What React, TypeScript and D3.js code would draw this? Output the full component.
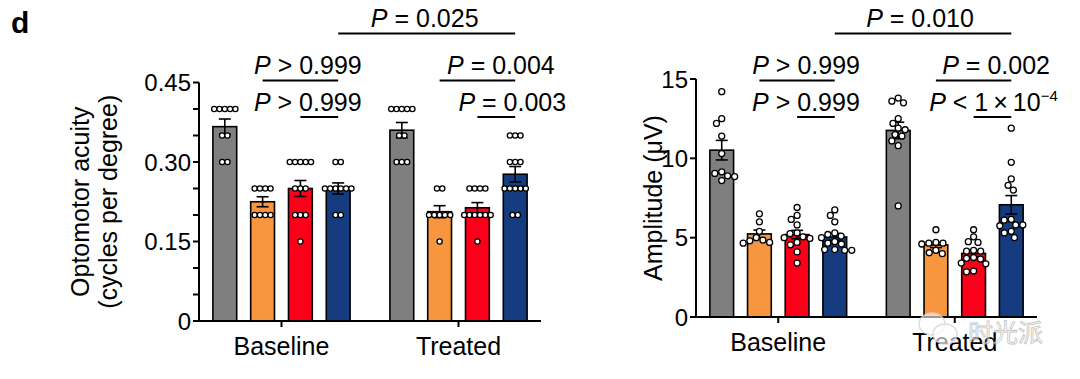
import React from "react";
import * as d3 from "d3";

// ---------- data ----------
const groups = ["Baseline", "Treated"];
const seriesKeys = ["grey", "orange", "red", "blue"];
const seriesColors = ["#7f7f7f", "#f7963f", "#fc0019", "#163c80"];

// Optomotor acuity (cycles per degree), one array per series
const acuityBaseline = [
  [0.4, 0.4, 0.4, 0.4, 0.4, 0.35, 0.35, 0.3, 0.3],
  [0.25, 0.25, 0.25, 0.25, 0.2, 0.2, 0.2, 0.2],
  [0.3, 0.3, 0.3, 0.3, 0.3, 0.25, 0.25, 0.25, 0.2, 0.2, 0.2, 0.15],
  [0.3, 0.3, 0.25, 0.25, 0.25, 0.25, 0.25, 0.25, 0.2, 0.2],
];
const acuityTreated = [
  [0.4, 0.4, 0.4, 0.4, 0.4, 0.35, 0.35, 0.3, 0.3, 0.3],
  [0.25, 0.25, 0.2, 0.2, 0.2, 0.2, 0.2, 0.15],
  [0.25, 0.25, 0.25, 0.25, 0.2, 0.2, 0.2, 0.2, 0.2, 0.2, 0.15],
  [0.35, 0.35, 0.35, 0.3, 0.3, 0.3, 0.25, 0.25, 0.25, 0.25, 0.25, 0.2, 0.2],
];

// Amplitude (µV)
const amplitudeBaseline = [
  [14.2, 12.5, 12.2, 11.4, 10.3, 9.05, 9.15, 8.9, 8.85, 8.6],
  [6.5, 6.0, 5.4, 5.0, 4.8, 4.7, 4.65, 4.85],
  [6.9, 6.4, 6.15, 5.8, 5.3, 5.25, 5.0, 4.95, 5.05, 4.7, 4.55, 4.1, 3.4],
  [6.75, 6.4, 6.0, 5.3, 5.2, 5.1, 5.0, 4.75, 4.65, 4.6, 4.25, 4.2, 4.2, 4.25],
];
const amplitudeTreated = [
  [13.8, 13.5, 13.6, 12.5, 12.2, 11.9, 11.8, 11.4, 11.5, 11.1, 10.8, 7.0],
  [5.5, 4.7, 4.65, 4.6, 4.65, 4.2, 4.0, 4.05],
  [5.5, 5.05, 4.7, 4.75, 4.15, 4.2, 4.15, 3.7, 3.75, 3.65, 3.4, 3.35, 2.9, 2.85],
  [11.9, 9.75, 8.7, 8.3, 8.0, 6.1, 6.15, 5.8, 5.8, 5.75, 5.4, 5.3, 5.0],
];

const acuityTicks = [0, 0.05, 0.1, 0.15, 0.2, 0.25, 0.3, 0.35, 0.4, 0.45];
const acuityTickLabels = ["0", "", "", "0.15", "", "", "0.30", "", "", "0.45"];
const amplitudeTicks = [0, 5, 10, 15];
const amplitudeTickLabels = ["0", "5", "10", "15"];

type Seg = { t: string; italic?: boolean; sup?: boolean };
type Cmp = { a: [number, number]; b: [number, number]; row: number; label: Seg[] };

const acuityComparisons: Cmp[] = [
  { a: [0, 3], b: [1, 3], row: 0, label: [{ t: "P", italic: true }, { t: " = 0.025" }] },
  { a: [0, 1], b: [0, 3], row: 1, label: [{ t: "P", italic: true }, { t: " > 0.999" }] },
  { a: [0, 2], b: [0, 3], row: 2, label: [{ t: "P", italic: true }, { t: " > 0.999" }] },
  { a: [1, 1], b: [1, 3], row: 1, label: [{ t: "P", italic: true }, { t: " = 0.004" }] },
  { a: [1, 2], b: [1, 3], row: 2, label: [{ t: "P", italic: true }, { t: " = 0.003" }] },
];
const amplitudeComparisons: Cmp[] = [
  { a: [0, 3], b: [1, 3], row: 0, label: [{ t: "P", italic: true }, { t: " = 0.010" }] },
  { a: [0, 1], b: [0, 3], row: 1, label: [{ t: "P", italic: true }, { t: " > 0.999" }] },
  { a: [0, 2], b: [0, 3], row: 2, label: [{ t: "P", italic: true }, { t: " > 0.999" }] },
  { a: [1, 1], b: [1, 3], row: 1, label: [{ t: "P", italic: true }, { t: " = 0.002" }] },
  { a: [1, 2], b: [1, 3], row: 2, label: [{ t: "P", italic: true }, { t: " < 1\u2009×\u200910" }, { t: "\u22124", sup: true }] },
];

// ---------- layout / style ----------
const FONT = "'Liberation Sans', Arial, Helvetica, sans-serif";
const rowLineY = [33.5, 80.5, 117];
const rowTextY = [26.5, 73.5, 110.5];
const acuityTextDx = [-2, 7.5, -11.5, 23.5, 16];
const amplitudeTextDx = [-3, 9, -10, 22.5, 1];

function sem(v: number[]) {
  const s = d3.deviation(v) ?? 0;
  return s / Math.sqrt(v.length);
}

function rowOffsets(values: number[], spacing: number) {
  const out = new Array(values.length).fill(0);
  const byVal = d3.group(values.map((v, i) => ({ v, i })), (d) => d.v);
  for (const [, arr] of byVal) {
    arr.forEach((d, k) => (out[d.i] = (k - (arr.length - 1) / 2) * spacing));
  }
  return out;
}

function swarmOffsets(values: number[], y: (v: number) => number, dist: number) {
  const order = values.map((_, i) => i).sort((a, b) => values[b] - values[a]);
  const placed: { x: number; y: number }[] = [];
  const out = new Array(values.length).fill(0);
  for (const i of order) {
    const yi = y(values[i]);
    const iv: [number, number][] = [];
    for (const p of placed) {
      const dy = Math.abs(p.y - yi);
      if (dy < dist) {
        const w = Math.sqrt(dist * dist - dy * dy);
        iv.push([p.x - w, p.x + w]);
      }
    }
    const cands = [0, ...iv.flat()].sort((a, b) => Math.abs(a) - Math.abs(b));
    let x = 0;
    for (const c of cands) {
      if (iv.every(([a, b]) => c <= a + 1e-6 || c >= b - 1e-6)) {
        x = c;
        break;
      }
    }
    out[i] = x;
    placed.push({ x, y: yi });
  }
  return out;
}

type PanelProps = {
  x0: number;
  x1: number;
  yTop: number;
  yBottom: number;
  domainMax: number;
  data: number[][][];
  ticks: number[];
  tickLabels: string[];
  comparisons: Cmp[];
  textDx: number[];
  yTitle: string[];
  titleX: number[];
  mode: "rows" | "swarm";
  r: number;
};

function Panel(p: PanelProps) {
  const xg = d3.scaleBand().domain(groups).range([p.x0, p.x1]).paddingInner(0.146).paddingOuter(0.039);
  const xs = d3.scaleBand().domain(seriesKeys).range([0, xg.bandwidth()]).paddingInner(0.37).paddingOuter(0.185);
  const y = d3.scaleLinear().domain([0, p.domainMax]).range([p.yBottom, p.yTop]);
  const cx = (g: number, s: number) => (xg(groups[g]) as number) + (xs(seriesKeys[s]) as number) + xs.bandwidth() / 2;
  const bw = xs.bandwidth();
  const midY = (p.yTop + p.yBottom) / 2;

  return (
    <g>
      {/* bars */}
      {p.data.map((grp, g) =>
        grp.map((vals, s) => {
          const m = d3.mean(vals) as number;
          return (
            <rect
              key={`b${g}${s}`}
              x={cx(g, s) - bw / 2}
              y={y(m)}
              width={bw}
              height={y(0) - y(m)}
              fill={seriesColors[s]}
              stroke="#000"
              strokeWidth={1.6}
            />
          );
        })
      )}
      {/* error bars */}
      {p.data.map((grp, g) =>
        grp.map((vals, s) => {
          const m = d3.mean(vals) as number;
          const e = sem(vals);
          const c = cx(g, s);
          return (
            <g key={`e${g}${s}`} stroke="#000" strokeWidth={1.6}>
              <line x1={c} x2={c} y1={y(m - e)} y2={y(m + e)} />
              <line x1={c - 6} x2={c + 6} y1={y(m + e)} y2={y(m + e)} />
              <line x1={c - 6} x2={c + 6} y1={y(m - e)} y2={y(m - e)} />
            </g>
          );
        })
      )}
      {/* points */}
      {p.data.map((grp, g) =>
        grp.map((vals, s) => {
          const offs = p.mode === "rows" ? rowOffsets(vals, 5.3) : swarmOffsets(vals, y, 2 * p.r + 1.1);
          return vals.map((v, i) => (
            <circle
              key={`p${g}${s}${i}`}
              cx={cx(g, s) + offs[i]}
              cy={y(v)}
              r={p.r}
              fill="#fff"
              stroke="#000"
              strokeWidth={1.3}
            />
          ));
        })
      )}
      {/* y axis */}
      <line x1={p.x0} x2={p.x0} y1={y(p.domainMax)} y2={y(0)} stroke="#000" strokeWidth={2} />
      {p.ticks.map((t, i) => (
        <g key={`t${i}`}>
          <line x1={p.x0 - 6} x2={p.x0} y1={y(t)} y2={y(t)} stroke="#000" strokeWidth={2} />
          {p.tickLabels[i] && (
            <text x={p.x0 - 8} y={y(t)} dy="0.36em" textAnchor="end" fontSize={24} fontFamily={FONT}>
              {p.tickLabels[i]}
            </text>
          )}
        </g>
      ))}
      {/* x axis */}
      <line x1={p.x0 - 1} x2={p.x1} y1={y(0)} y2={y(0)} stroke="#000" strokeWidth={2} />
      {groups.map((gname, g) => {
        const c = (xg(gname) as number) + xg.bandwidth() / 2;
        return (
          <g key={`xg${g}`}>
            <line x1={c} x2={c} y1={y(0)} y2={y(0) + 6} stroke="#000" strokeWidth={2} />
            <text x={c} y={y(0) + 34} textAnchor="middle" fontSize={25} fontFamily={FONT}>
              {gname}
            </text>
          </g>
        );
      })}
      {/* y title */}
      {p.yTitle.map((line, i) => (
        <text
          key={`yt${i}`}
          transform={`translate(${p.titleX[i]},${midY}) rotate(-90)`}
          textAnchor="middle"
          fontSize={25}
          fontFamily={FONT}
        >
          {line}
        </text>
      ))}
      {/* comparisons */}
      {p.comparisons.map((c, i) => {
        const xa = cx(c.a[0], c.a[1]);
        const xb = cx(c.b[0], c.b[1]);
        const tc = (xa + xb) / 2 + p.textDx[i];
        return (
          <g key={`c${i}`}>
            <line x1={xa} x2={xb} y1={rowLineY[c.row]} y2={rowLineY[c.row]} stroke="#000" strokeWidth={1.8} />
            <text x={tc} y={rowTextY[c.row]} textAnchor="middle" fontSize={25} fontFamily={FONT}>
              {c.label.map((sg, k) => (
                <tspan
                  key={k}
                  fontStyle={sg.italic ? "italic" : undefined}
                  fontSize={sg.sup ? 15 : undefined}
                  dy={sg.sup ? -10 : undefined}
                >
                  {sg.t}
                </tspan>
              ))}
            </text>
          </g>
        );
      })}
    </g>
  );
}

export default function App() {
  return (
    <svg
      width={1080}
      height={379}
      viewBox="0 0 1080 379"
      style={{ position: "absolute", left: 0, top: 0, background: "#fff" }}
    >
      <rect width={1080} height={379} fill="#fff" />
      <text x={11} y={33} fontSize={30} fontWeight="bold" fontFamily={FONT}>
        d
      </text>
      <Panel
        x0={199}
        x1={541}
        yTop={82.5}
        yBottom={321}
        domainMax={0.45}
        data={[acuityBaseline, acuityTreated]}
        ticks={acuityTicks}
        tickLabels={acuityTickLabels}
        comparisons={acuityComparisons}
        textDx={acuityTextDx}
        yTitle={["Optomotor acuity", "(cycles per degree)"]}
        titleX={[89, 117]}
        mode="rows"
        r={2.6}
      />
      <Panel
        x0={696}
        x1={1037}
        yTop={79}
        yBottom={317}
        domainMax={15}
        data={[amplitudeBaseline, amplitudeTreated]}
        ticks={amplitudeTicks}
        tickLabels={amplitudeTickLabels}
        comparisons={amplitudeComparisons}
        textDx={amplitudeTextDx}
        yTitle={["Amplitude (\u03bcV)"]}
        titleX={[662]}
        mode="swarm"
        r={3}
      />
      {/* watermark */}
      <g opacity={0.85}>
        <ellipse cx={932} cy={324} rx={13} ry={11} fill="#fff" fillOpacity={0.7} stroke="#d8d8d8" strokeWidth={1.5} />
        <ellipse cx={945} cy={334} rx={12} ry={10} fill="#fff" fillOpacity={0.7} stroke="#d8d8d8" strokeWidth={1.5} />
        <text x={968} y={342} fontSize={25} fontFamily="'Noto Sans CJK SC', sans-serif" fill="#fff" fillOpacity={0.6} stroke="#bbb" strokeWidth={0.8}>
          时光派
        </text>
      </g>
    </svg>
  );
}
